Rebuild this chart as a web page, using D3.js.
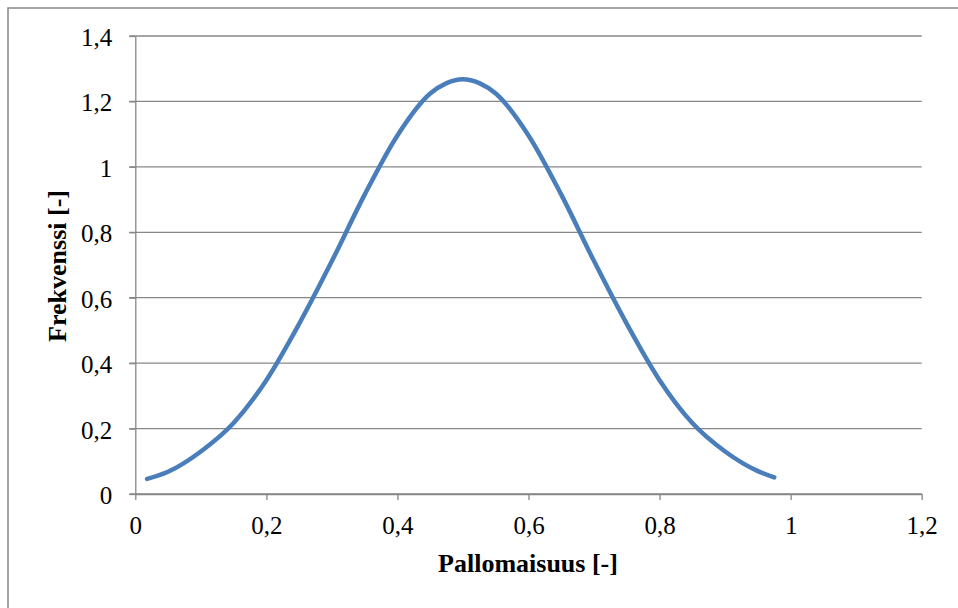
<!DOCTYPE html>
<html>
<head>
<meta charset="utf-8">
<script src="https://cdn.jsdelivr.net/npm/d3@7"></script>
<style>
  html, body { margin: 0; padding: 0; background: #fff; }
  svg { display: block; }
  text { font-family: "Liberation Serif", "Times New Roman", serif; fill: #000; }
</style>
</head>
<body>
<svg id="chart" width="958" height="608"></svg>
<script>
// Distribution of sphericity (Pallomaisuus) vs. frequency
const xValues = [0.018, 0.05, 0.10, 0.15, 0.20, 0.25, 0.30, 0.35, 0.40, 0.45, 0.475, 0.50,
                 0.525, 0.55, 0.60, 0.65, 0.70, 0.75, 0.80, 0.85, 0.90, 0.95, 0.975];
const yValues = [0.046, 0.068, 0.130, 0.217, 0.348, 0.52, 0.712, 0.915, 1.096, 1.224, 1.256, 1.268,
                 1.256, 1.224, 1.096, 0.915, 0.712, 0.52, 0.348, 0.217, 0.130, 0.070, 0.051];
const xTicks = [0, 0.2, 0.4, 0.6, 0.8, 1, 1.2];
const yTicks = [0, 0.2, 0.4, 0.6, 0.8, 1, 1.2, 1.4];
const xTitle = "Pallomaisuus [-]";
const yTitle = "Frekvenssi [-]";

const svg = d3.select("#chart");
const grey = "#878787";
const plotLeft = 135.3, plotRight = 921.7, plotTop = 36, plotBottom = 494;

const x = d3.scaleLinear().domain([0, 1.2]).range([plotLeft, plotRight]);
const y = d3.scaleLinear().domain([0, 1.4]).range([plotBottom, plotTop]);
const fmt = d => String(+d.toFixed(1)).replace(".", ",");

// outer chart frame
svg.append("rect")
  .attr("x", 8).attr("y", 8).attr("width", 980).attr("height", 640)
  .attr("fill", "none").attr("stroke", grey).attr("stroke-width", 1.5);

// horizontal gridlines
svg.append("g").selectAll("line").data(yTicks).join("line")
  .attr("x1", plotLeft - 6).attr("x2", plotRight)
  .attr("y1", d => y(d)).attr("y2", d => y(d))
  .attr("stroke", grey).attr("stroke-width", 1.3);

// y axis
const gy = svg.append("g").attr("transform", `translate(${plotLeft},0)`)
  .call(d3.axisLeft(y).tickValues(yTicks).tickFormat(fmt).tickSizeInner(6).tickSizeOuter(0).tickPadding(17));
gy.selectAll("line, path").attr("stroke", grey).attr("stroke-width", 1.3);
gy.selectAll("text").attr("font-size", 25).attr("dy", "0.38em")
  .style("font-family", '"Liberation Serif", serif').attr("fill", "#000");

// x axis
const gx = svg.append("g").attr("transform", `translate(0,${plotBottom})`)
  .call(d3.axisBottom(x).tickValues(xTicks).tickFormat(fmt).tickSizeInner(6).tickSizeOuter(0).tickPadding(16));
gx.selectAll("line, path").attr("stroke", grey).attr("stroke-width", 1.3);
gx.selectAll("text").attr("font-size", 25)
  .style("font-family", '"Liberation Serif", serif').attr("fill", "#000");

// axis titles
svg.append("text")
  .attr("x", (plotLeft + plotRight) / 2 - 0.5).attr("y", 572)
  .attr("text-anchor", "middle").attr("font-size", 26).attr("font-weight", "bold")
  .text(xTitle);
svg.append("text")
  .attr("transform", "translate(66,266) rotate(-90)")
  .attr("text-anchor", "middle").attr("font-size", 26).attr("font-weight", "bold")
  .text(yTitle);

// frequency curve
const pts = xValues.map((v, i) => [v, yValues[i]]);
svg.append("path")
  .datum(pts)
  .attr("fill", "none")
  .attr("stroke", "#4a7ebb")
  .attr("stroke-width", 4.5)
  .attr("stroke-linecap", "round")
  .attr("stroke-linejoin", "round")
  .attr("d", d3.line().x(d => x(d[0])).y(d => y(d[1])).curve(d3.curveMonotoneX));
</script>
</body>
</html>
